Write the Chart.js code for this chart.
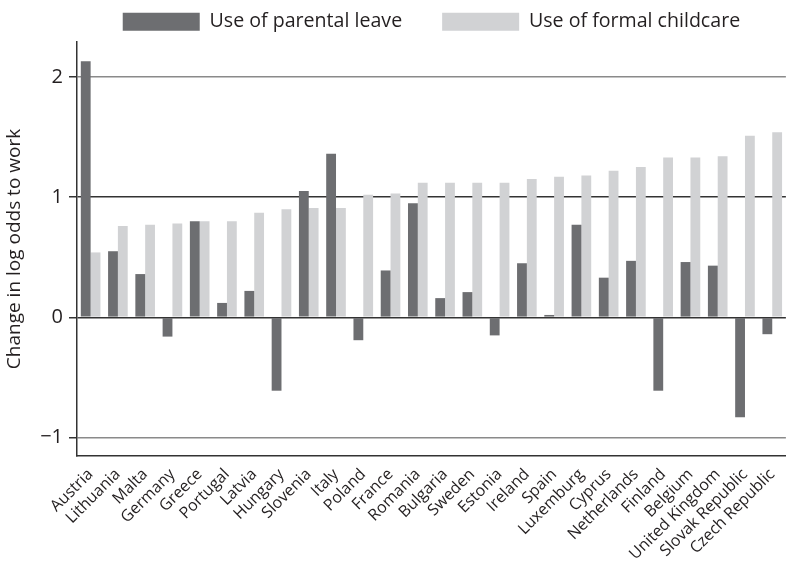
<!DOCTYPE html>
<html>
<head>
<meta charset="utf-8">
<script src="https://cdn.jsdelivr.net/npm/chart.js@4/dist/chart.umd.min.js"></script>
<style>
  html, body { margin: 0; padding: 0; background: #fff; }
  #wrap { width: 795px; height: 561px; position: relative; }
</style>
</head>
<body>
<div id="wrap"><canvas id="c" width="795" height="561"></canvas></div>
<script>
const countries = ["Austria","Lithuania","Malta","Germany","Greece","Portugal","Latvia","Hungary","Slovenia","Italy","Poland","France","Romania","Bulgaria","Sweden","Estonia","Ireland","Spain","Luxemburg","Cyprus","Netherlands","Finland","Belgium","United Kingdom","Slovak Republic","Czech Republic"];
const parentalLeave = [2.13,0.55,0.36,-0.16,0.80,0.12,0.22,-0.61,1.05,1.36,-0.19,0.39,0.95,0.16,0.21,-0.15,0.45,0.02,0.77,0.33,0.47,-0.61,0.46,0.43,-0.83,-0.14];
const formalChildcare = [0.54,0.76,0.77,0.78,0.80,0.80,0.87,0.90,0.91,0.91,1.02,1.03,1.12,1.12,1.12,1.12,1.15,1.17,1.18,1.22,1.25,1.33,1.33,1.34,1.51,1.54];
const seriesNames = ["Use of parental leave","Use of formal childcare"];
const yTicks = [-1,0,1,2];
const yRange = [-1.153, 2.29];
const axisTitle = "Change in log odds to work";

const FONT = "'Open Sans', sans-serif";
const LEGEND_PAD = 40;
const LEGEND_BOX_TOP = 12;

// move the built-in legend up so its swatches sit where the reference has them
const legendShift = {
  id: 'legendShift',
  afterLayout(chart) {
    const lg = chart.legend;
    if (lg) {
      const bottom = lg.bottom;
      lg.top = LEGEND_BOX_TOP - LEGEND_PAD;
      lg.bottom = bottom;
      lg.height = bottom - lg.top;
    }
  }
};

new Chart(document.getElementById('c'), {
  type: 'bar',
  data: {
    labels: countries,
    datasets: [
      { label: seriesNames[0], data: parentalLeave, backgroundColor: '#6d6e71', borderWidth: 0 },
      { label: seriesNames[1], data: formalChildcare, backgroundColor: '#d1d2d4', borderWidth: 0 }
    ]
  },
  plugins: [legendShift],
  options: {
    responsive: false,
    animation: false,
    devicePixelRatio: 1,
    layout: { padding: { left: 0, right: 0, top: 0, bottom: 0 } },
    datasets: { bar: { categoryPercentage: 0.72, barPercentage: 1.0 } },
    plugins: {
      tooltip: { enabled: false },
      legend: {
        display: true,
        position: 'top',
        fullSize: false,
        maxHeight: 42,
        labels: {
          boxWidth: 77,
          boxHeight: 18,
          padding: LEGEND_PAD,
          color: '#231f20',
          font: { family: FONT, size: 19.6 }
        }
      }
    },
    scales: {
      x: {
        offset: true,
        grid: { display: false, drawTicks: false },
        border: { display: true, color: '#333', width: 1.5 },
        ticks: {
          autoSkip: false,
          minRotation: 45,
          maxRotation: 45,
          padding: 9,
          color: '#231f20',
          font: { family: FONT, size: 16 }
        },
        afterFit: s => { s.height = 105; }
      },
      y: {
        min: yRange[0],
        max: yRange[1],
        afterBuildTicks: s => { s.ticks = yTicks.map(v => ({ value: v })); },
        grid: {
          color: ctx => (ctx.tick && (ctx.tick.value === 0 || ctx.tick.value === 1)) ? '#333' : '#8a8a8a',
          tickColor: '#333',
          lineWidth: 1.5,
          tickLength: 8,
          drawOnChartArea: true
        },
        border: { display: true, color: '#333', width: 1.5 },
        ticks: {
          padding: 6,
          color: '#231f20',
          font: { family: FONT, size: 20 },
          callback: v => (v < 0 ? '\u2212' + Math.abs(v) : String(v))
        },
        title: {
          display: true,
          text: axisTitle,
          color: '#231f20',
          font: { family: FONT, size: 19 },
          padding: { top: 3, bottom: 0 }
        },
        afterFit: s => { s.width = 77; }
      }
    }
  }
});
</script>
</body>
</html>
